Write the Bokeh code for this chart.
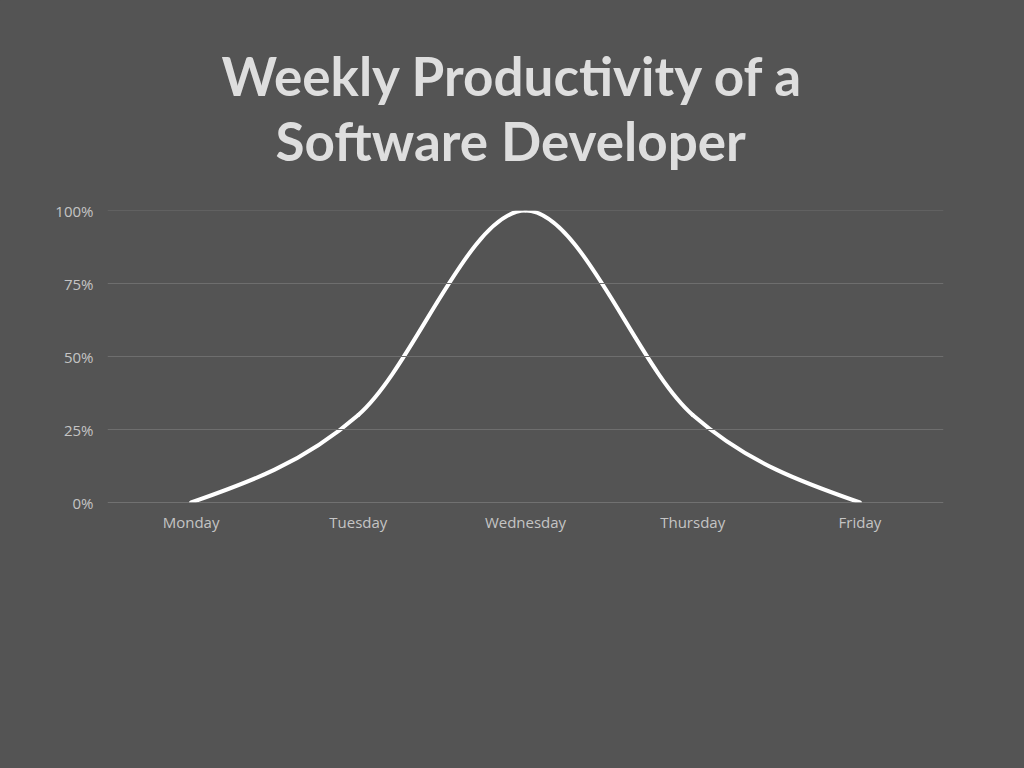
import numpy as np
from bokeh.plotting import figure
from bokeh.models import Title, FixedTicker, Range1d, ColumnDataSource, Span
from bokeh.embed import file_html
from bokeh.resources import INLINE

days = ["Monday", "Tuesday", "Wednesday", "Thursday", "Friday"]
productivity = [0, 30, 100, 30, 0]
y_ticks = [0, 25, 50, 75, 100]
y_tick_labels = ["0%", "25%", "50%", "75%", "100%"]
title_lines = ["Weekly Productivity of a", "Software Developer"]

BG = "#545454"

p = figure(width=1024, height=768, output_backend="svg", toolbar_location=None, tools="",
           x_range=Range1d(-0.5, 4.5), y_range=Range1d(0, 100),
           background_fill_color=BG, border_fill_color=BG,
           styles={"background-color": BG},
           min_border_left=107, min_border_right=81, min_border_bottom=266, min_border_top=210)
p.outline_line_color = None

# spacer between the frame and the title lines (text in background colour)
p.add_layout(Title(text=".", text_font_size="1px", text_color=BG, standoff=36), "above")

# titles: add second line first (closest to plot)
offsets = [168, 114]
for i, txt in enumerate(reversed(title_lines)):
    t = Title(text=txt, align="left", text_font="Lato", text_font_size="53px",
              text_font_style="bold", text_color="#dedede", offset=offsets[i],
              standoff=0)
    p.add_layout(t, "above")

# horizontal gridlines as spans
for v in y_ticks:
    p.add_layout(Span(location=v, dimension="width",
                      line_color="#8e8e8e" if v == 0 else "#6e6e6e", line_width=1))

# monotone cubic (Fritsch-Carlson like d3.curveMonotoneX) tangents
xs = np.arange(len(days), dtype=float)
ys = np.array(productivity, dtype=float)
n = len(xs)
h = np.diff(xs)
s = np.diff(ys) / h
t = np.zeros(n)
for i in range(1, n - 1):
    pmid = (s[i - 1] * h[i] + s[i] * h[i - 1]) / (h[i - 1] + h[i])
    t[i] = (np.sign(s[i - 1]) + np.sign(s[i])) * min(abs(s[i - 1]), abs(s[i]), 0.5 * abs(pmid))
t[0] = (3 * s[0] - t[1]) / 2
t[-1] = (3 * s[-1] - t[-2]) / 2

src = ColumnDataSource(dict(
    x0=xs[:-1], y0=ys[:-1], x1=xs[1:], y1=ys[1:],
    cx0=xs[:-1] + h / 3, cy0=ys[:-1] + t[:-1] * h / 3,
    cx1=xs[1:] - h / 3, cy1=ys[1:] - t[1:] * h / 3,
))
p.bezier(x0="x0", y0="y0", x1="x1", y1="y1", cx0="cx0", cy0="cy0", cx1="cx1", cy1="cy1",
         source=src, line_color="white", line_width=4, line_cap="round")

# axes
p.xaxis.ticker = FixedTicker(ticks=list(xs))
p.xaxis.major_label_overrides = {i: d for i, d in enumerate(days)}
p.yaxis.ticker = FixedTicker(ticks=y_ticks)
p.yaxis.major_label_overrides = {v: l for v, l in zip(y_ticks, y_tick_labels)}

for ax in (p.xaxis[0], p.yaxis[0]):
    ax.major_tick_line_color = None
    ax.minor_tick_line_color = None
    ax.axis_line_color = None
    ax.major_label_text_font = "Open Sans"
    ax.major_label_text_font_size = "15px"
    ax.major_label_text_color = "#c4c4c4"
p.xaxis.major_label_standoff = 3
p.yaxis.major_label_standoff = 8

p.xgrid.grid_line_color = None
p.ygrid.grid_line_color = None

open("out.html", "w").write(file_html(p, INLINE))
